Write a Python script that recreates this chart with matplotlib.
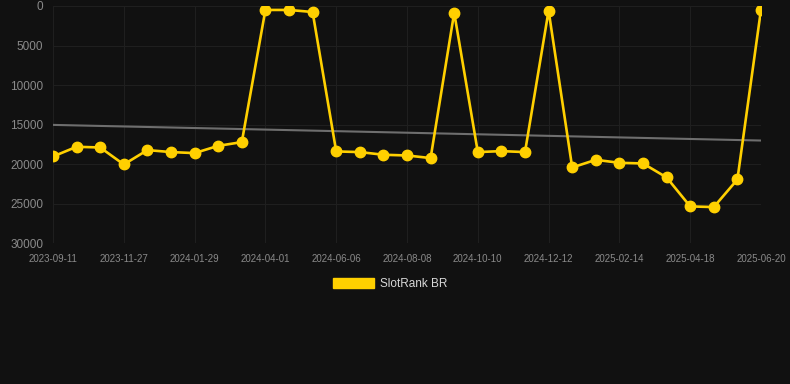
import matplotlib
matplotlib.use("Agg")
import matplotlib.pyplot as plt

plt.rcParams["font.family"] = ["Liberation Sans", "DejaVu Sans"]

# rank of the game per sample date (lower is better, axis inverted)
dates = [
    "2023-09-11", "2023-10-07", "2023-11-01", "2023-11-27", "2023-12-18",
    "2024-01-08", "2024-01-29", "2024-02-19", "2024-03-11", "2024-04-01",
    "2024-04-23", "2024-05-15", "2024-06-06", "2024-06-27", "2024-07-18",
    "2024-08-08", "2024-08-29", "2024-09-19", "2024-10-10", "2024-10-31",
    "2024-11-21", "2024-12-12", "2025-01-02", "2025-01-24", "2025-02-14",
    "2025-03-07", "2025-03-28", "2025-04-18", "2025-05-09", "2025-05-30",
    "2025-06-20",
]
ranks = [
    19050, 17820, 17910, 20060, 18240, 18490, 18620, 17700, 17230, 500,
    500, 760, 18410, 18490, 18830, 18920, 19250, 850, 18490, 18370,
    18490, 590, 20440, 19470, 19850, 19930, 21700, 25370, 25450, 21960,
    460,
]
trend_start = 15050
trend_end = 17030

bg = "#111111"
yellow = "#ffd000"
grid_c = "#1f1f1f"
tick_c = "#8a8a8a"

fig = plt.figure(figsize=(7.9, 3.84), dpi=100, facecolor=bg)
ax = fig.add_axes([53 / 790, 1 - 243 / 384, 708 / 790, 237 / 384])
ax.set_facecolor(bg)

x = list(range(len(dates)))
ax.plot([x[0], x[-1]], [trend_start, trend_end], color="#6e6e6e", linewidth=1.5, zorder=2)
ax.plot(x, ranks, color=yellow, linewidth=1.9, marker="o", markersize=7.5,
        markerfacecolor=yellow, markeredgecolor=yellow, zorder=3, label="SlotRank BR")

ax.set_xlim(x[0], x[-1])
ax.set_ylim(30000, 0)
ax.set_yticks(range(0, 30001, 5000))
ax.set_xticks(x[::3])
ax.set_xticklabels(dates[::3])

ax.tick_params(axis="y", length=0, pad=7, labelcolor=tick_c, labelsize=8.5)
ax.tick_params(axis="x", length=0, pad=8, labelcolor=tick_c, labelsize=7)
ax.grid(True, color=grid_c, linewidth=0.8)
ax.set_axisbelow(True)
for s in ax.spines.values():
    s.set_visible(False)

handle = plt.Rectangle((0, 0), 1, 1, facecolor=yellow, edgecolor=yellow)
leg = fig.legend([handle], ["SlotRank BR"], loc="center", bbox_to_anchor=(390 / 790, 1 - 284 / 384),
                 frameon=False, fontsize=8.5, handlelength=3.5, handleheight=1.0,
                 handletextpad=0.5, labelcolor="#d8d8d8")

fig.savefig("out.png", dpi=100, facecolor=bg)
